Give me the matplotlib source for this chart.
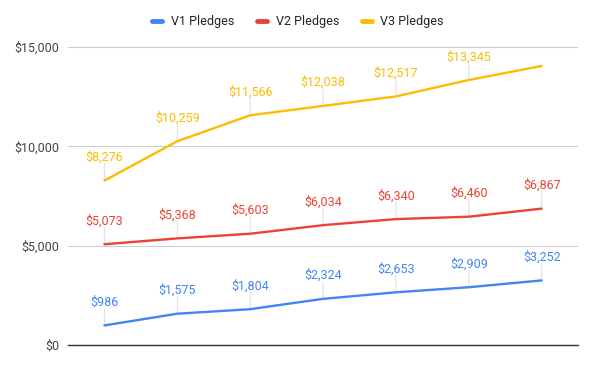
import matplotlib.pyplot as plt
from matplotlib.ticker import FuncFormatter

plt.rcParams['font.family'] = ['Roboto', 'DejaVu Sans']

points = list(range(7))
v1 = [986, 1575, 1804, 2324, 2653, 2909, 3252]
v2 = [5073, 5368, 5603, 6034, 6340, 6460, 6867]
v3 = [8276, 10259, 11566, 12038, 12517, 13345, 14050]
# the last V3 point has no label in the source chart
v3_labels = ['$8,276', '$10,259', '$11,566', '$12,038', '$12,517', '$13,345', '']

series = [
    ("V1 Pledges", v1, "#4285F4", None),
    ("V2 Pledges", v2, "#EA4335", None),
    ("V3 Pledges", v3, "#FBBC04", v3_labels),
]

fig = plt.figure(figsize=(5.96, 3.68), dpi=100)
ax = fig.add_axes([0.114, 0.0625, 0.856, 0.8095])

for name, vals, col, labs in series:
    ax.plot(points, vals, color=col, lw=1.7, label=name, zorder=3,
            solid_capstyle='round')
    for i, v in enumerate(vals):
        txt = labs[i] if labs else f"${v:,}"
        if not txt:
            continue
        ax.annotate("", xy=(i, v), xytext=(0, 12), textcoords='offset points',
                    arrowprops=dict(arrowstyle='-', color='#e0e0e0', lw=0.8,
                                    shrinkA=0, shrinkB=0), zorder=2)
        ax.annotate(txt, xy=(i, v), xytext=(0, 12), textcoords='offset points',
                    ha='center', va='bottom', color=col, fontsize=9, zorder=4)

ax.set_xlim(-0.5, 6.5)
ax.set_ylim(0, 15000)
ax.set_yticks([0, 5000, 10000, 15000])
ax.yaxis.set_major_formatter(FuncFormatter(lambda v, p: f"${int(v):,}"))
ax.set_xticks([])
ax.tick_params(axis='y', length=0, labelsize=9, labelcolor='#444444', pad=6)
ax.grid(axis='y', color='#cccccc', lw=0.8)
ax.set_axisbelow(True)
for s in ['top', 'right', 'left']:
    ax.spines[s].set_visible(False)
ax.spines['bottom'].set_color('#333333')
ax.spines['bottom'].set_linewidth(1)

fig.legend(loc='upper center', bbox_to_anchor=(0.5, 0.99), ncol=3,
           frameon=False, fontsize=9, handlelength=0.8, handletextpad=0.7,
           columnspacing=1.8, labelcolor='#222222')
for h in fig.legends[0].get_lines():
    h.set_linewidth(3.5)

fig.savefig("out.png", dpi=100)
